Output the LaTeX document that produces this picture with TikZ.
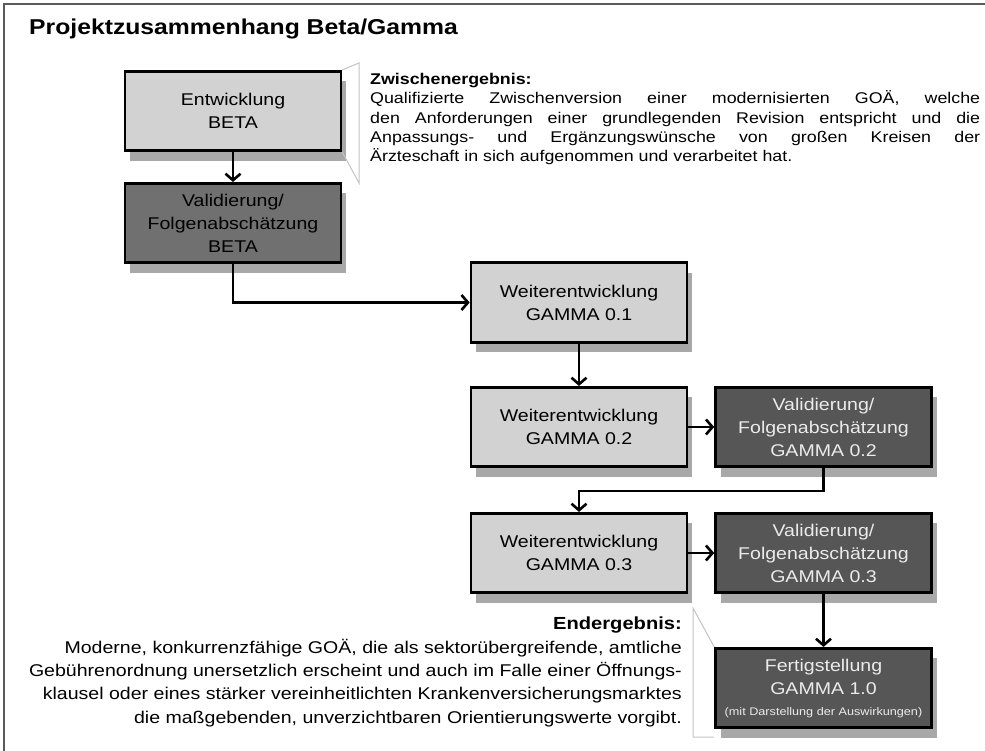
\documentclass[tikz,border=0pt]{standalone}
\usepackage{fontspec}
\setmainfont[FakeStretch=1.15]{Liberation Sans}
\usetikzlibrary{arrows.meta,shadows}
\definecolor{lightbox}{RGB}{210,210,210}
\definecolor{midbox}{RGB}{112,112,112}
\definecolor{darkbox}{RGB}{86,86,86}
\definecolor{shadowgray}{RGB}{168,168,168}
\definecolor{calloutgray}{RGB}{195,195,195}
\definecolor{framegray}{RGB}{90,90,90}
\newcommand{\jline}[1]{\makebox[610pt][s]{#1}}
\begin{document}
\begin{tikzpicture}[x=1pt,y=-1pt,
  box/.style={draw=black, line width=2.6pt, minimum width=216pt, minimum height=79.5pt,
    align=center, inner sep=0pt, font=\fontsize{17}{23}\selectfont,
    drop shadow={shadow xshift=5pt, shadow yshift=-10pt, fill=shadowgray, opacity=1}},
  lightb/.style={box, fill=lightbox, text=black},
  betadark/.style={box, fill=midbox, text=black},
  gammadark/.style={box, fill=darkbox, text=white!92!black},
  arr/.style={line width=2.6pt, -{Straight Barb[length=6.5pt,width=15pt,line width=2.6pt]}},
  callout/.style={draw=calloutgray, line width=1pt}
]
\useasboundingbox (0,0) rectangle (985,751);
\draw[framegray, line width=1.5pt] (4,751) -- (4,4) -- (985,4);

\node[anchor=base west, inner sep=0pt, font=\fontsize{21.5}{25}\selectfont\bfseries] (title) at (29,35) {Projektzusammenhang Beta/Gamma};

\node[lightb] (b1) at (233,111) {Entwicklung\\BETA};
\node[betadark] (b2) at (233,223) {Validierung/\\Folgenabschätzung\\BETA};
\node[lightb] (b3) at (579,302.5) {Weiterentwicklung\\GAMMA 0.1};
\node[lightb] (b4) at (579,427) {Weiterentwicklung\\GAMMA 0.2};
\node[gammadark] (b5) at (823.5,427) {Validierung/\\Folgenabschätzung\\GAMMA 0.2};
\node[lightb] (b6) at (579,553) {Weiterentwicklung\\GAMMA 0.3};
\node[gammadark] (b7) at (823.5,553) {Validierung/\\Folgenabschätzung\\GAMMA 0.3};
\node[gammadark] (b8) at (823.5,688) {Fertigstellung\\GAMMA 1.0\\[-2pt]{\fontsize{11}{13}\selectfont (mit Darstellung der Auswirkungen)}};

\draw[arr] (b1) -- (b2);
\draw[arr] (b2.south) |- (b3.west);
\draw[arr] (b3) -- (b4);
\draw[arr] (b4) -- (b5);
\draw[arr] (b5.south) -- ++(0,23) -| (b6.north);
\draw[arr] (b6) -- (b7);
\draw[arr] (b7) -- (b8);

\coordinate (zt) at (359,63);
\coordinate (zb) at (359,183);
\draw[callout] (b1.north east) -- (zt) -- (zb) -- (b1.south east);
\coordinate (et) at (693,608);
\coordinate (eb) at (693,737);
\draw[callout] (b8.north west) -- (et) -- (eb) -- (b8.south west |- eb);

\node[inner sep=0pt, anchor=north west, text width=610pt, align=justify,
  font=\fontsize{15.5}{19.3}\selectfont] (zw) at (370,73) {%
{\bfseries Zwischenergebnis:}\\
\jline{Qualifizierte Zwischenversion einer modernisierten GOÄ, welche}\\
\jline{den Anforderungen einer grundlegenden Revision entspricht und die}\\
\jline{Anpassungs- und Ergänzungswünsche von großen Kreisen der}\\
Ärzteschaft in sich aufgenommen und verarbeitet hat.};

\node[inner sep=0pt, anchor=north east, align=right, font=\fontsize{17}{23.3}\selectfont] (en) at (682,617) {%
{\fontsize{17.5}{23.3}\selectfont\bfseries Endergebnis:}\\
Moderne, konkurrenzfähige GOÄ, die als sektorübergreifende, amtliche\\
Gebührenordnung unersetzlich erscheint und auch im Falle einer Öffnungs-\\
klausel oder eines stärker vereinheitlichten Krankenversicherungsmarktes\\
die maßgebenden, unverzichtbaren Orientierungswerte vorgibt.};
\end{tikzpicture}
\end{document}
